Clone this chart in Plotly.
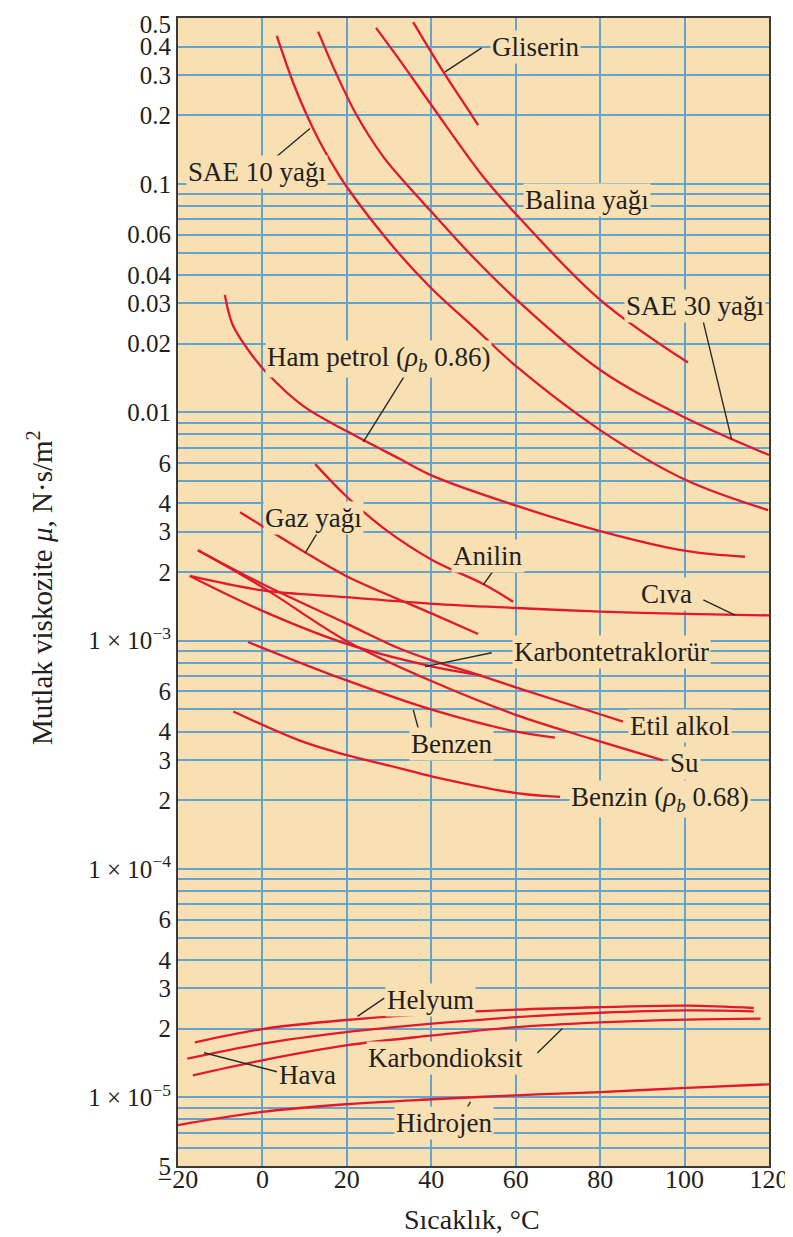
import numpy as np
import plotly.graph_objects as go

# ---------------- data (temperature in degC, viscosity in N.s/m2) ----------------
gliserin_T = [35.7, 42.9, 49.6, 51.1]
gliserin_mu = [0.512, 0.309, 0.200, 0.181]

sae10_T = [3.4, 7.3, 10.5, 13.6, 16.7, 20.0, 31.0, 39.7, 50.8, 60.3, 80.0, 100.3, 119.8]
sae10_mu = [0.445, 0.277, 0.2005, 0.1528, 0.1211, 0.0970, 0.0530, 0.0354, 0.0229, 0.0158,
            0.00836, 0.00505, 0.00373]

sae30_T = [13.2, 17.4, 22.3, 28.6, 32.6, 40.3, 50.1, 60.3, 80.0, 100.3, 120.0]
sae30_mu = [0.465, 0.307, 0.2005, 0.1318, 0.1073, 0.0746, 0.0474, 0.0310, 0.01532, 0.00944, 0.0065]

balina_T = [26.9, 32.6, 40.3, 52.3, 60.2, 80.0, 100.8]
balina_mu = [0.483, 0.347, 0.218, 0.1076, 0.0733, 0.0311, 0.01652]

hampetrol_T = [-8.9, -8.15, -6.9, -2.9, 1.0, 9.7, 19.8, 32.6, 40.3, 60.3, 80.0, 100.3, 114.3]
hampetrol_mu = [0.0327, 0.0281, 0.0238, 0.01823, 0.0149, 0.01064, 0.0083, 0.00624, 0.00527,
                0.00389, 0.00302, 0.00247, 0.00233]

gazyagi_T = [-5.3, 9.7, 19.8, 30.0, 40.3, 51.1]
gazyagi_mu = [0.00365, 0.00246, 0.00192, 0.00158, 0.00131, 0.00107]

anilin_T = [12.5, 19.8, 29.4, 40.3, 52.3, 59.4]
anilin_mu = [0.00593, 0.0043, 0.00304, 0.00225, 0.00177, 0.00148]

civa_T = [-17.2, 0.1, 19.8, 40.3, 60.2, 80.0, 100.3, 120.0]
civa_mu = [0.00192, 0.00166, 0.00155, 0.00145, 0.00139, 0.00134, 0.00131, 0.00129]

ccl4_T = [-17.2, 0.0, 19.8, 40.3, 51.9]
ccl4_mu = [0.00192, 0.00135, 0.00097, 0.00077, 0.000705]

su_T = [-15.3, -0.1, 19.8, 40.3, 60.2, 77.6, 94.9]
su_mu = [0.00249, 0.00172, 0.00100, 0.000662, 0.000472, 0.000373, 0.000299]

etil_T = [-15.3, 0.0, 19.8, 32.6, 40.3, 51.5, 60.2, 80.0, 85.4]
etil_mu = [0.00249, 0.00177, 0.00119, 0.000922, 0.000818, 0.000705, 0.000623, 0.000476, 0.000442]

benzen_T = [-3.4, 19.8, 40.3, 60.2, 69.3]
benzen_mu = [0.000986, 0.000671, 0.000497, 0.000399, 0.000376]

benzin_T = [-6.9, 9.7, 19.8, 32.6, 40.3, 60.2, 70.5]
benzin_mu = [0.000489, 0.000360, 0.000316, 0.000276, 0.000254, 0.000215, 0.000207]

helyum_T = [-16.0, 0.0, 19.8, 40.2, 60.1, 80.1, 100.5, 116.4]
helyum_mu = [1.74e-5, 1.99e-5, 2.18e-5, 2.32e-5, 2.42e-5, 2.48e-5, 2.52e-5, 2.46e-5]

hava_T = [-17.8, 0.0, 19.8, 40.2, 60.1, 80.1, 100.5, 116.4]
hava_mu = [1.475e-5, 1.716e-5, 1.928e-5, 2.10e-5, 2.244e-5, 2.345e-5, 2.40e-5, 2.38e-5]

co2_T = [-16.5, 0.0, 19.8, 40.2, 60.1, 80.1, 100.5, 118.0]
co2_mu = [1.247e-5, 1.452e-5, 1.687e-5, 1.865e-5, 2.03e-5, 2.13e-5, 2.19e-5, 2.21e-5]

hidrojen_T = [-20.0, 0.0, 19.8, 40.2, 60.1, 80.1, 100.5, 120.0]
hidrojen_mu = [7.55e-6, 8.63e-6, 9.32e-6, 9.80e-6, 1.02e-5, 1.054e-5, 1.10e-5, 1.14e-5]

x_ticks = [-20, 0, 20, 40, 60, 80, 100, 120]
x_ticktext = ["\u221220", "0", "20", "40", "60", "80", "100", "120"]

y_ticks = [0.5, 0.4, 0.3, 0.2, 0.1, 0.06, 0.04, 0.03, 0.02, 0.01,
           6e-3, 4e-3, 3e-3, 2e-3, 1e-3, 6e-4, 4e-4, 3e-4, 2e-4, 1e-4,
           6e-5, 4e-5, 3e-5, 2e-5, 1e-5, 5e-6]
y_ticktext = ["0.5", "0.4", "0.3", "0.2", "0.1", "0.06", "0.04", "0.03", "0.02", "0.01",
              "6", "4", "3", "2", "1 \u00d7 10<sup>\u22123</sup>",
              "6", "4", "3", "2", "1 \u00d7 10<sup>\u22124</sup>",
              "6", "4", "3", "2", "1 \u00d7 10<sup>\u22125</sup>", "5"]

# ---------------- styling ----------------
BG = "#F9E0B3"
GRID = "#62A4CC"
RED = "#E3182D"
INK = "#231F20"
FONT = "Liberation Serif"

curves = [
    (gliserin_T, gliserin_mu), (sae10_T, sae10_mu), (sae30_T, sae30_mu),
    (balina_T, balina_mu), (hampetrol_T, hampetrol_mu), (gazyagi_T, gazyagi_mu),
    (anilin_T, anilin_mu), (civa_T, civa_mu), (ccl4_T, ccl4_mu), (su_T, su_mu),
    (etil_T, etil_mu), (benzen_T, benzen_mu), (benzin_T, benzin_mu),
    (helyum_T, helyum_mu), (hava_T, hava_mu), (co2_T, co2_mu), (hidrojen_T, hidrojen_mu),
]

# label placements (layout, in axis units)
labels = [
    ("Gliserin", 64.6, 0.398),
    ("SAE 10 ya\u011f\u0131", -1.3, 0.113),
    ("Balina ya\u011f\u0131", 76.9, 0.0851),
    ("SAE 30 ya\u011f\u0131", 102.5, 0.0292),
    ("Ham petrol (<i>\u03c1</i><sub><i>b</i></sub> 0.86)", 27.4, 0.0172),
    ("Gaz ya\u011f\u0131", 12.2, 0.00344),
    ("Anilin", 53.4, 0.00235),
    ("C\u0131va", 95.8, 0.0016),
    ("Karbontetraklor\u00fcr", 82.8, 0.000891),
    ("Etil alkol", 98.9, 0.000423),
    ("Su", 99.9, 0.000291),
    ("Benzen", 44.7, 0.000352),
    ("Benzin (<i>\u03c1</i><sub><i>b</i></sub> 0.68)", 94.2, 0.000203),
    ("Helyum", 39.7, 2.67e-5),
    ("Hava", 10.6, 1.25e-5),
    ("Karbondioksit", 43.3, 1.48e-5),
    ("Hidrojen", 43.0, 7.69e-6),
]

leaders = [
    (43.25, 0.310, 51.94, 0.395),
    (3.38, 0.132, 11.27, 0.175),
    (104.44, 0.0249, 111.17, 0.00757),
    (33.77, 0.01455, 23.9, 0.00743),
    (13.64, 0.0031, 10.08, 0.00241),
    (55.09, 0.002075, 52.32, 0.001754),
    (104.44, 0.001507, 111.95, 0.001294),
    (54.31, 0.000885, 38.51, 0.000769),
    (36.92, 0.000413, 35.74, 0.000497),
    (28.87, 2.72e-5, 22.52, 2.26e-5),
    (3.45, 1.294e-5, -13.84, 1.567e-5),
    (65.14, 1.563e-5, 71.04, 2.0e-5),
    (49.27, 9.55e-6, 47.51, 8.34e-6),
]

grid_vals = []
for e in [-6, -5, -4, -3, -2, -1]:
    for d in range(1, 10):
        v = d * 10.0 ** e
        if 5.5e-6 < v < 0.49:
            grid_vals.append(v)

fig = go.Figure()
for T, mu in curves:
    fig.add_trace(go.Scatter(x=T, y=mu, mode="lines", showlegend=False, hoverinfo="skip",
                             line=dict(color=RED, width=2.3, shape="spline", smoothing=1.0)))
for x0, y0, x1, y1 in leaders:
    fig.add_trace(go.Scatter(x=[x0, x1], y=[y0, y1], mode="lines", showlegend=False,
                             hoverinfo="skip", line=dict(color="#2a2a2a", width=1.4)))

annotations = []
for text, xt, mu in labels:
    annotations.append(dict(x=xt, y=np.log10(mu), xref="x", yref="y", text=text,
                            showarrow=False, bgcolor=BG, borderpad=1,
                            font=dict(family=FONT, size=27, color=INK)))
annotations.append(dict(x=-0.2335, y=0.5035, xref="paper", yref="paper", textangle=-90,
                        xanchor="center", yanchor="middle",
                        text="Mutlak viskozite <i>\u03bc</i>, N\u00b7s/m<sup>2</sup>",
                        showarrow=False, font=dict(family=FONT, size=29, color=INK)))
annotations.append(dict(x=0.4975, y=-0.047, xref="paper", yref="paper",
                        xanchor="center", yanchor="middle",
                        text="S\u0131cakl\u0131k, \u00b0C", showarrow=False,
                        font=dict(family=FONT, size=28, color=INK)))

# the page body adds an 8 px offset, so the figure is 8 px smaller than the window
fig.update_layout(
    width=785, height=1229,
    margin=dict(l=170, r=24, t=10, b=71),
    paper_bgcolor="white", plot_bgcolor=BG,
    annotations=annotations,
    xaxis=dict(range=[-20, 120], tickvals=x_ticks, ticktext=x_ticktext, automargin=False,
               showgrid=True, gridcolor=GRID, gridwidth=2, zeroline=False,
               ticks="", showline=True, linecolor="#3a3a3a", linewidth=2, mirror=True,
               ticklabelstandoff=-11,
               tickfont=dict(family=FONT, size=26, color=INK)),
    yaxis=dict(type="log", range=[np.log10(5e-6), -0.2729], tickvals=y_ticks, ticktext=y_ticktext,
               showgrid=False, zeroline=False, ticks="", automargin=False,
               minor=dict(tickvals=grid_vals, showgrid=True, gridcolor=GRID, gridwidth=2, ticks=""),
               showline=True, linecolor="#3a3a3a", linewidth=2, mirror=True,
               tickfont=dict(family=FONT, size=25, color=INK)),
)

fig.write_html("out.html")
